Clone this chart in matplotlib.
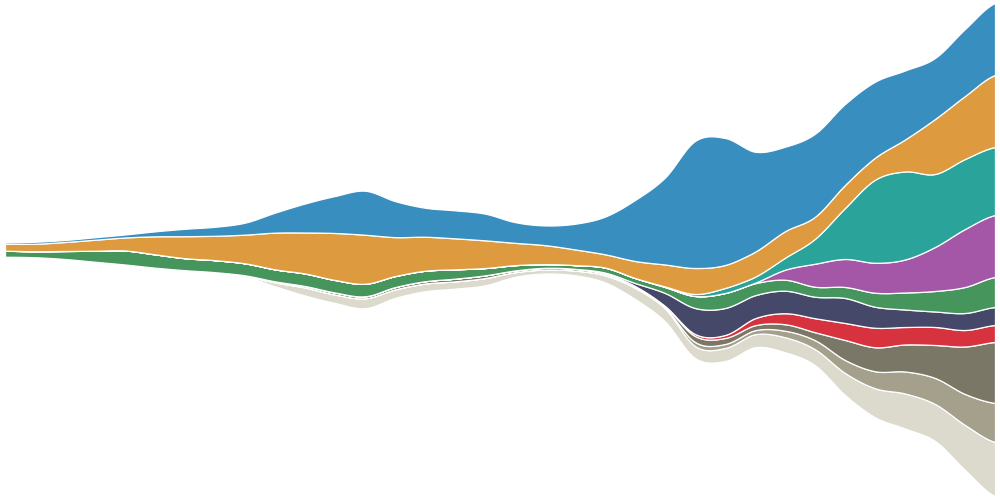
import numpy as np
import matplotlib
matplotlib.use("Agg")
import matplotlib.pyplot as plt

# sample positions (horizontal, in chart units)
x = [5, 35, 65, 95, 125, 155, 185, 215, 245, 275, 305, 335, 365, 395, 425, 455,
     485, 515, 545, 575, 605, 635, 665, 695, 725, 755, 785, 815, 845, 875, 905,
     935, 965, 995]

# layer thicknesses, top layer first
blue = [1.5, 2, 2, 2.5, 3, 5, 7.4, 9, 12, 20, 29, 37, 44, 36, 29, 28,
        26.7, 20.7, 19.7, 25.7, 37.7, 61, 87, 127, 127, 100, 84.5, 83, 81, 76, 69,
        61, 67, 72]
orange = [7, 7.5, 9, 11, 13, 18, 22, 24.4, 28.7, 36.7, 41, 47, 49, 39, 34, 31,
          27.7, 22.3, 19, 15.7, 13.3, 17, 22, 26, 23, 25, 26.5, 22, 23, 22, 32,
          55, 63, 72]
teal = [0, 0, 0, 0, 0, 0, 0, 0, 0, 0, 0, 0, 0, 0, 0, 0,
        0, 0, 0, 0, 0, 0, 0.5, 2, 5, 6, 12, 25, 51, 83, 88,
        73, 70, 68]
purple = [0, 0, 0, 0, 0, 0, 0, 0, 0, 0, 0, 0, 0, 0, 0, 0,
          0, 0, 0, 0, 0, 0, 0, 0, 0, 0.5, 10, 23, 28, 30, 33,
          44, 58, 62]
green = [6, 6, 8, 11, 14, 13.3, 12, 12, 12, 12, 12.5, 12.5, 12.5, 11, 10.5, 9.3,
         7.3, 5.3, 3.7, 3.7, 5, 5, 6, 12, 15, 12, 11, 10, 11, 14, 17,
         20.5, 26, 30]
navy = [0, 0, 0, 0, 0, 0, 0, 0, 0, 0, 0, 0, 0, 0, 0, 0,
        0, 0, 0, 0, 1, 3, 13, 26, 27, 23, 22.5, 21.5, 25, 21, 17.5,
        15.5, 17, 18]
red = [0, 0, 0, 0, 0, 0, 0, 0, 0, 0, 0, 0, 0, 0, 0, 0,
       0, 0, 0, 0, 0, 0, 0.3, 2, 3, 7, 11, 14, 17, 19.5, 17.5,
       18, 16.5, 17]
olive = [0, 0, 0, 0, 0, 0, 0, 0, 0.5, 1, 1.5, 2, 2, 2.3, 2.3, 2.7,
         2.7, 1.7, 1.7, 1.7, 1.5, 1.5, 1.5, 6, 6, 5, 6.5, 8, 20, 24, 27,
         33, 47.5, 61]
gray = [0, 0, 0, 0, 0, 0, 0, 0, 0, 0, 0, 0, 0, 0, 0, 0,
        0, 0, 0, 0, 0.3, 0.5, 0.7, 4, 4, 4, 6.5, 9, 13, 17, 22,
        26, 31, 39]
beige = [0, 0, 0, 0, 0, 0, 0, 0, 0.5, 4, 8, 8.5, 10, 8.5, 7.7, 7.3,
         7.3, 4.7, 4, 4.7, 7, 11, 13, 12, 13, 13, 15, 16, 22, 29, 35,
         37, 45, 54]

series_top_first = [blue, orange, teal, purple, green, navy, red, olive, gray, beige]
colors_top_first = ["#388ebe", "#dd9a3f", "#2aa39b", "#a457a6", "#46955c",
                    "#454868", "#d6333f", "#7a7766", "#a4a08c", "#dcdacc"]


def catmull_rom(xs, ys, n=24):
    xs = np.asarray(xs, float)
    ys = np.asarray(ys, float)
    p = np.concatenate([[ys[0]], ys, [ys[-1]]])
    out_x, out_y = [], []
    for i in range(len(xs) - 1):
        p0, p1, p2, p3 = p[i], p[i + 1], p[i + 2], p[i + 3]
        t = np.linspace(0, 1, n, endpoint=False)
        y = 0.5 * ((2 * p1) + (-p0 + p2) * t + (2 * p0 - 5 * p1 + 4 * p2 - p3) * t ** 2
                   + (-p0 + 3 * p1 - 3 * p2 + p3) * t ** 3)
        out_x.append(xs[i] + (xs[i + 1] - xs[i]) * t)
        out_y.append(y)
    out_x.append([xs[-1]])
    out_y.append([ys[-1]])
    return np.concatenate(out_x), np.clip(np.concatenate(out_y), 0, None)


xs_fine = None
smoothed = []
for s in series_top_first[::-1]:
    xs_fine, ys = catmull_rom(x, s)
    smoothed.append(ys)

fig = plt.figure(figsize=(10, 5), dpi=100)
ax = fig.add_axes([0, 0, 1, 1])
ax.stackplot(xs_fine, *smoothed, colors=colors_top_first[::-1], baseline="sym",
             edgecolor="white", linewidth=0.9)
ax.set_xlim(0, 1000)
ax.set_ylim(-250.5, 249.5)
ax.axis("off")
fig.savefig("out.png", dpi=100, facecolor="white")
